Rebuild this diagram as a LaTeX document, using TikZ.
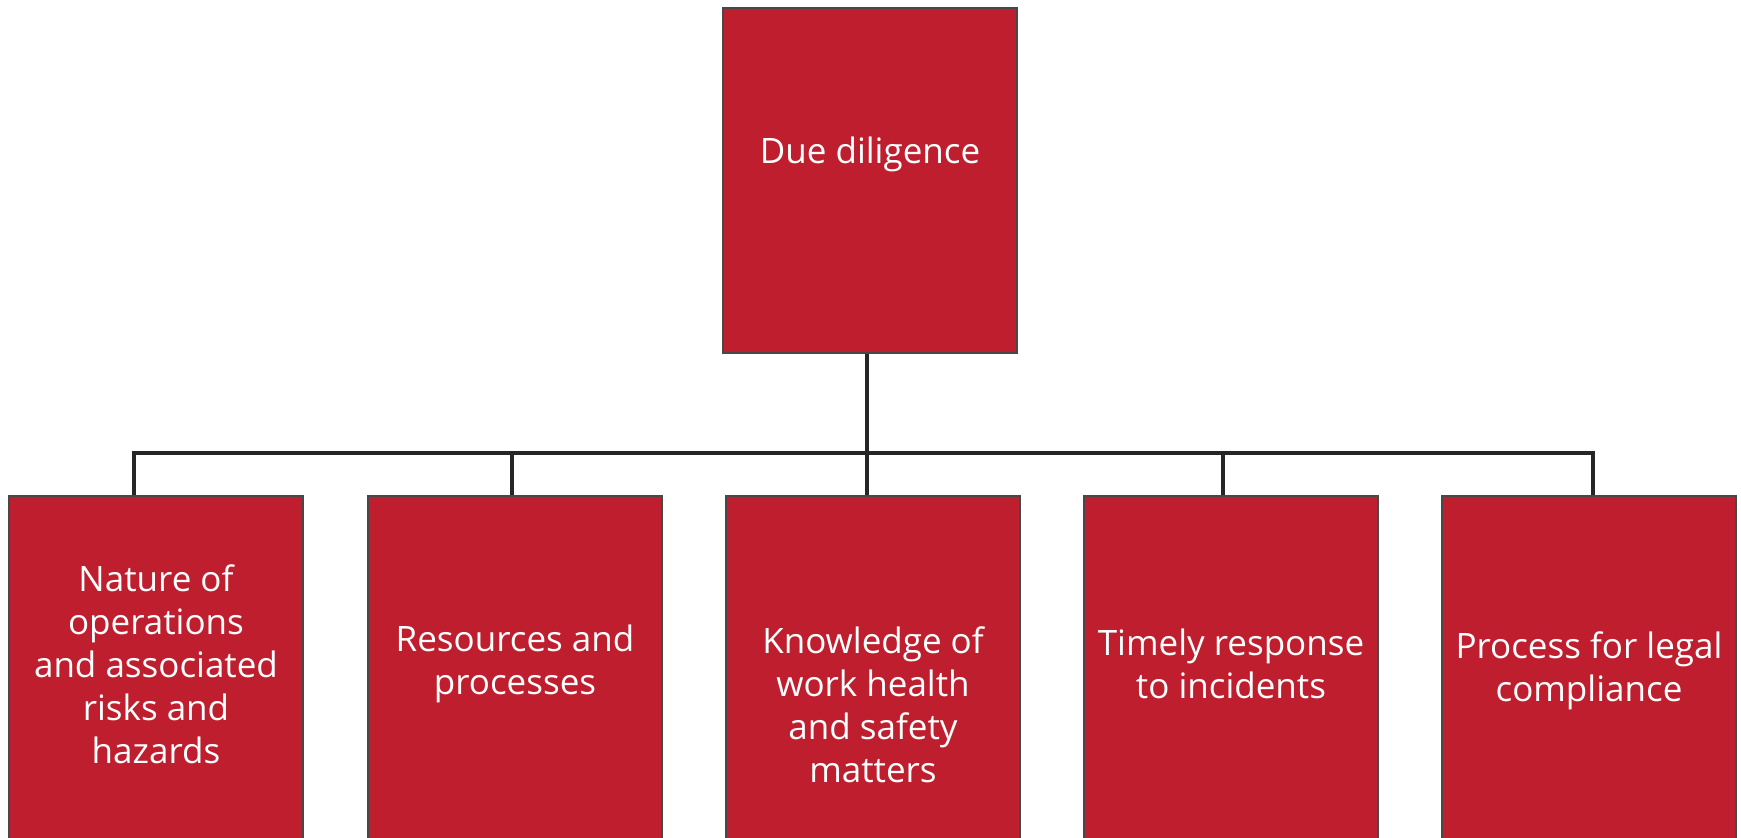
\documentclass[tikz,border=0pt]{standalone}
\usepackage{fontspec}
\setmainfont{Open Sans}
\usetikzlibrary{positioning}

\definecolor{duered}{RGB}{190,30,45}
\definecolor{edgegray}{RGB}{72,72,72}

\tikzset{
  redbox/.style={draw=edgegray, line width=1.5pt, fill=duered,
    minimum width=294pt, inner sep=0pt, anchor=north},
  boxtext/.style={text=white, align=center, inner sep=0pt, anchor=north,
    font=\fontsize{35}{43}\selectfont},
  link/.style={line width=3.2pt, draw=black!85}
}

\begin{document}
\begin{tikzpicture}[x=1pt,y=-1pt]
  \useasboundingbox (0,0) rectangle (1741,838);
  \clip (0,0) rectangle (1741,838);

  % top box
  \node[redbox, minimum height=345pt] (due) at (870,7) {};
  \node[boxtext, below=130pt of due.north] (duetxt) {Due diligence};

  % bottom row (cut off by the page edge)
  \node[redbox, minimum height=420pt] (nat) at (156,495) {};
  \node[redbox, minimum height=420pt] (res) at (515,495) {};
  \node[redbox, minimum height=420pt] (kno) at (873,495) {};
  \node[redbox, minimum height=420pt] (tim) at (1231,495) {};
  \node[redbox, minimum height=420pt] (pro) at (1589,495) {};

  \node[boxtext, below=70pt of nat.north] (nattxt)
    {Nature of\\operations\\and associated\\risks and\\hazards};
  \node[boxtext, below=130pt of res.north] (restxt) {Resources and\\processes};
  \node[boxtext, below=132pt of kno.north] (knotxt)
    {Knowledge of\\work health\\and safety\\matters};
  \node[boxtext, below=134pt of tim.north] (timtxt) {Timely response\\to incidents};
  \node[boxtext, below=137pt of pro.north] (protxt) {Process for legal\\compliance};

  % connectors
  \coordinate (hub) at (867,453);
  \coordinate (tnat) at (134,453);
  \coordinate (tpro) at (1593,453);
  \draw[link] (tnat |- nat.north) -- (tnat) -- (tpro) -- (tpro |- pro.north);
  \foreach \xx/\nm in {512/res,1223/tim} {
    \coordinate (t\nm) at (\xx,453);
    \draw[link] (t\nm) -- (t\nm |- \nm.north);
  }
  \draw[link] (hub |- due.south) -- (hub |- kno.north);
\end{tikzpicture}
\end{document}
